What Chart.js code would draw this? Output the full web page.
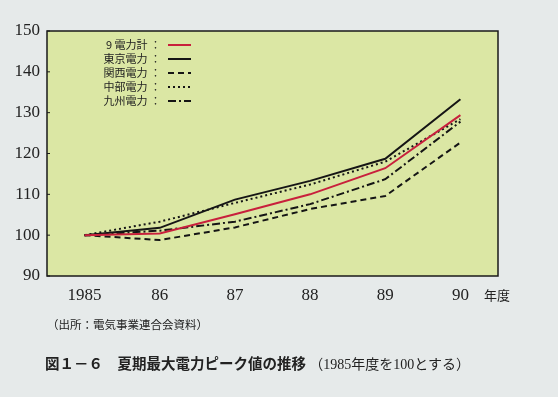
<!DOCTYPE html>
<html>
<head>
<meta charset="utf-8">
<script src="https://cdn.jsdelivr.net/npm/chart.js@4"></script>
<style>
    body { margin: 0; background: #e6eaea; width: 558px; height: 397px; overflow: hidden; position: relative; }
    #wrap { position: absolute; left: 0; top: 0; width: 558px; height: 397px; }
    .note { position: absolute; font-family: "Noto Sans CJK JP", sans-serif; color: #222; white-space: nowrap; }
    #source { left: 47px; top: 316px; font-size: 11.5px; }
    #caption { left: 45px; top: 352px; font-size: 14.5px; font-weight: bold; }
    #caption span { font-weight: normal; font-family: "Liberation Serif", "Noto Sans CJK JP", serif; font-size: 14px; }
</style>
</head>
<body>
<div id="wrap"><canvas id="chart" width="558" height="397"></canvas></div>
<div class="note" id="source">（出所：電気事業連合会資料）</div>
<div class="note" id="caption">図１－６　夏期最大電力ピーク値の推移 <span>（1985年度を100とする）</span></div>

<script>
'use strict';

/******************************************************************************************
DATA
******************************************************************************************/

var years = ['1985', '86', '87', '88', '89', '90'];
var y_ticks = [90, 100, 110, 120, 130, 140, 150];

var total_9 = [100, 100.4, 105.1, 110.0, 116.4, 129.4];              // 9電力計
var tokyo = [100, 101.8, 108.7, 113.3, 118.7, 133.3];                // 東京電力
var kansai = [100, 98.8, 101.9, 106.4, 109.6, 122.7];                // 関西電力
var chubu = [100, 103.3, 107.9, 112.4, 118.0, 128.4];                // 中部電力
var kyushu = [100, 101.1, 103.3, 107.6, 113.7, 127.8];               // 九州電力

var legend_names = ['9 電力計', '東京電力', '関西電力', '中部電力', '九州電力'];


/******************************************************************************************
PLUGINS
******************************************************************************************/

// yellow plot background + frame + inward ticks
var plot_frame = {
    id: 'plot_frame',
    beforeDraw: function(chart) {
        var a = chart.chartArea, c = chart.ctx;
        c.save();
        c.fillStyle = '#dbe7a4';
        c.fillRect(a.left, a.top, a.right - a.left, a.bottom - a.top);
        c.restore();
    },
    afterDraw: function(chart) {
        var a = chart.chartArea, c = chart.ctx, y = chart.scales.y;
        c.save();
        c.strokeStyle = '#1a1a1a';
        c.lineWidth = 1.5;
        c.strokeRect(a.left, a.top, a.right - a.left, a.bottom - a.top);
        c.lineWidth = 1;
        y_ticks.forEach(function(v) {
            var py = y.getPixelForValue(v);
            c.beginPath();
            c.moveTo(a.left, py);
            c.lineTo(a.left + 3, py);
            c.stroke();
        });
        // unit label
        c.fillStyle = '#222';
        c.font = '13px "Noto Sans CJK JP"';
        c.textBaseline = 'middle';
        c.fillText('年度', a.right - 14, a.bottom + 19);
        c.restore();
    }
};

// legend inside the plot: text then line sample
var inner_legend = {
    id: 'inner_legend',
    afterDraw: function(chart) {
        var c = chart.ctx;
        c.save();
        c.font = '11px "Noto Sans CJK JP"';
        c.textBaseline = 'middle';
        chart.data.datasets.forEach(function(ds, i) {
            var yy = 45 + i * 14;
            c.fillStyle = '#222';
            c.textAlign = 'right';
            c.fillText(legend_names[i] + ' ：', 161, yy);
            c.strokeStyle = ds.borderColor;
            c.lineWidth = ds.borderWidth;
            c.setLineDash(ds.borderDash || []);
            c.beginPath();
            c.moveTo(168, yy);
            c.lineTo(191, yy);
            c.stroke();
        });
        c.restore();
    }
};


/******************************************************************************************
CHART
******************************************************************************************/

function make_dataset(data, color, width, dash) {
    return {
        data: data,
        borderColor: color,
        borderWidth: width,
        borderDash: dash,
        pointRadius: 0,
        tension: 0,
        fill: false
    };
}

var ctx = document.getElementById('chart').getContext('2d');
var myChart = new Chart(ctx, {
    type: 'line',
    data: {
        labels: years,
        datasets: [
            make_dataset(total_9, '#c8203c', 2, []),
            make_dataset(tokyo, '#151515', 2, []),
            make_dataset(kansai, '#151515', 2, [6, 4]),
            make_dataset(chubu, '#151515', 2, [2, 3]),
            make_dataset(kyushu, '#151515', 2, [8, 3, 2, 3])
        ]
    },
    options: {
        responsive: false,
        animation: false,
        devicePixelRatio: 1,
        layout: { padding: { left: 0, top: 31, right: 60, bottom: 81 } },
        plugins: { legend: { display: false }, tooltip: { enabled: false } },
        scales: {
            x: {
                offset: true,
                grid: { display: false, drawTicks: false },
                border: { display: false },
                ticks: {
                    padding: 9,
                    color: '#222',
                    font: { family: 'Liberation Serif', size: 17 }
                },
                afterFit: function(scale) { scale.height = 40; }
            },
            y: {
                min: 90,
                max: 150,
                grid: { display: false, drawTicks: false },
                border: { display: false },
                ticks: {
                    stepSize: 10,
                    padding: 7,
                    color: '#222',
                    font: { family: 'Liberation Serif', size: 17 }
                },
                afterFit: function(scale) { scale.width = 47; }
            }
        }
    },
    plugins: [plot_frame, inner_legend]
});
</script>
</body>
</html>
